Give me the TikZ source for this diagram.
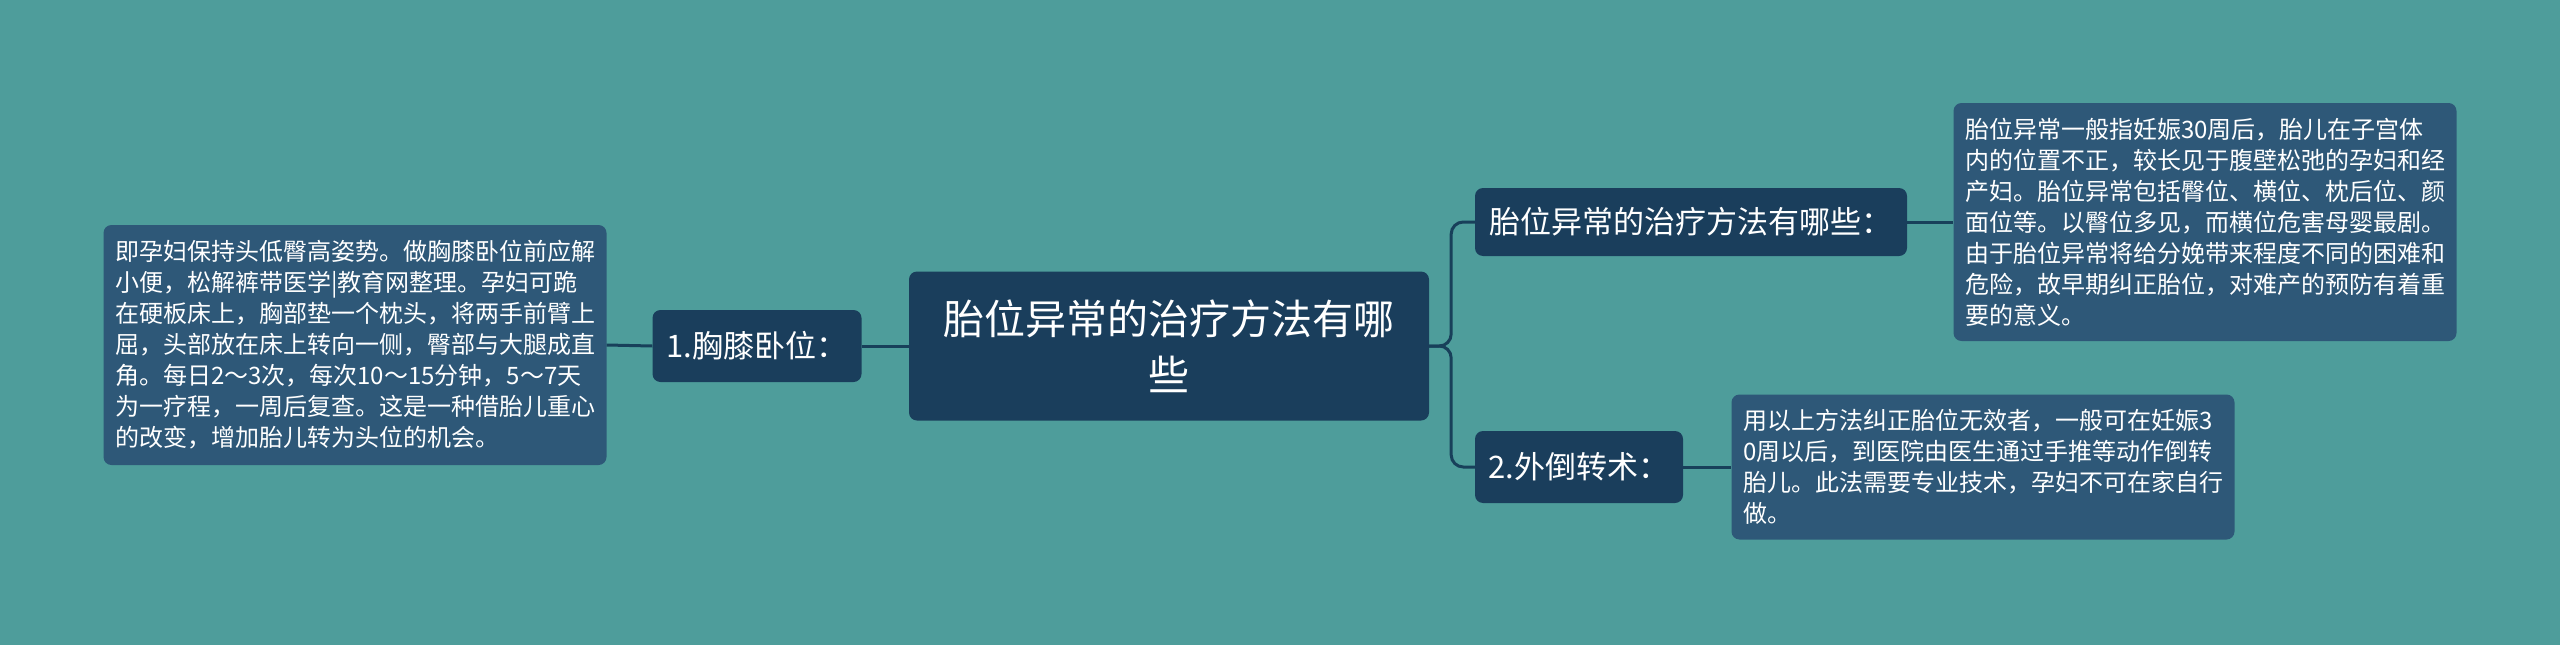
\documentclass[tikz,border=0pt]{standalone}
\usepackage{fontspec}
\setmainfont{Noto Sans CJK SC}
\definecolor{bgteal}{HTML}{4E9D9B}
\definecolor{topicblue}{HTML}{1A3E5C}
\definecolor{notesblue}{HTML}{2E5878}
\definecolor{linkblue}{HTML}{18405A}
\begin{document}
\begin{tikzpicture}[x=1pt, y=-1pt,
    topic/.style={fill=topicblue, text=white, rounded corners=8pt, inner sep=0pt, align=center},
    notes/.style={fill=notesblue, text=white, rounded corners=8pt, inner sep=0pt, align=left,
        font=\fontsize{24}{31}\selectfont},
    link/.style={linkblue, line width=3pt}]
            \fill[bgteal] (0,0) rectangle (2560,645);

            \node[topic, minimum width=520pt, minimum height=149pt, font=\fontsize{41}{56}\selectfont] (main) at (1169,346) {胎位异常的治疗方法有哪\\些};

            \node[topic, minimum width=209pt, minimum height=72pt, font=\fontsize{31}{36}\selectfont] (knee) at (757,346) {1.胸膝卧位：};
            \node[notes, minimum width=503pt, minimum height=240pt] (kneetext) at (355,345) {即孕妇保持头低臀高姿势。做胸膝卧位前应解\\小便，松解裤带医学|教育网整理。孕妇可跪\\在硬板床上，胸部垫一个枕头，将两手前臂上\\屈，头部放在床上转向一侧，臀部与大腿成直\\角。每日2～3次，每次10～15分钟，5～7天\\为一疗程，一周后复查。这是一种借胎儿重心\\的改变，增加胎儿转为头位的机会。};

            \node[topic, minimum width=432pt, minimum height=68pt, font=\fontsize{31}{36}\selectfont] (what) at (1691,222) {胎位异常的治疗方法有哪些：};
            \node[notes, minimum width=503pt, minimum height=238pt] (whattext) at (2205,222) {胎位异常一般指妊娠30周后，胎儿在子宫体\\内的位置不正，较长见于腹壁松弛的孕妇和经\\产妇。胎位异常包括臀位、横位、枕后位、颜\\面位等。以臀位多见，而横位危害母婴最剧。\\由于胎位异常将给分娩带来程度不同的困难和\\危险，故早期纠正胎位，对难产的预防有着重\\要的意义。};

            \node[topic, minimum width=208pt, minimum height=72pt, font=\fontsize{31}{36}\selectfont] (turn) at (1579,467) {2.外倒转术：};
            \node[notes, minimum width=503pt, minimum height=145pt] (turntext) at (1983,467) {用以上方法纠正胎位无效者，一般可在妊娠3\\0周以后，到医院由医生通过手推等动作倒转\\胎儿。此法需要专业技术，孕妇不可在家自行\\做。};

            % connectors
            \draw[link] (knee.east) -- (main.west);
            \draw[link] (kneetext.east) -- (knee.west);
            \draw[link, rounded corners=12pt] (main.east) -- ++(22,0) |- (what.west);
            \draw[link, rounded corners=12pt] (main.east) -- ++(22,0) |- (turn.west);
            \draw[link] (what.east) -- (whattext.west);
            \draw[link] (turn.east) -- (turntext.west);
        \end{tikzpicture}
\end{document}
